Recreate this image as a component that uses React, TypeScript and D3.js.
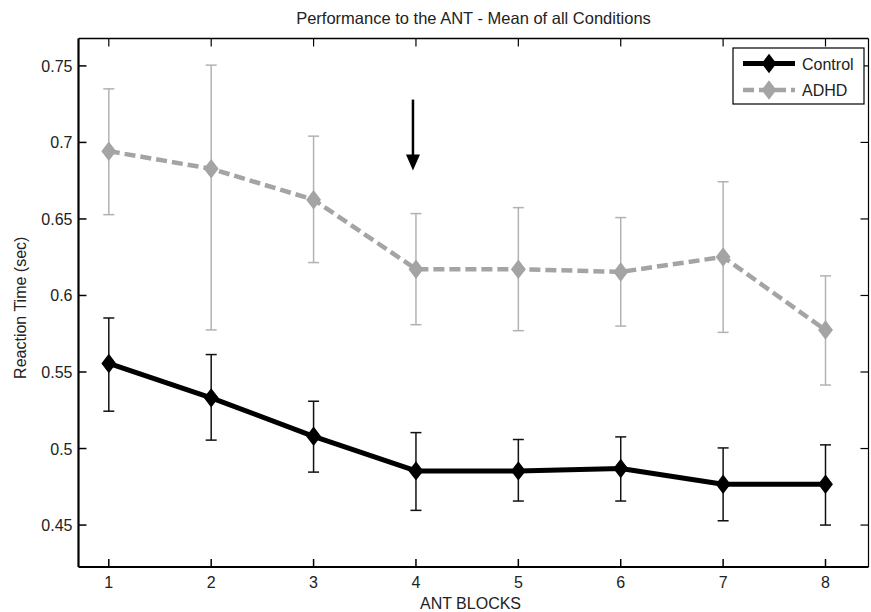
import React from "react";
import * as d3 from "d3";

const blocks = [1, 2, 3, 4, 5, 6, 7, 8];
const controlMean = [0.5556, 0.5331, 0.508, 0.4854, 0.4854, 0.487, 0.4767, 0.4767];
const controlUpper = [0.5853, 0.5614, 0.5309, 0.5104, 0.5059, 0.5076, 0.5004, 0.5024];
const controlLower = [0.5244, 0.5055, 0.4846, 0.4596, 0.4657, 0.4657, 0.4528, 0.45];
const adhdMean = [0.6943, 0.6828, 0.6626, 0.6172, 0.6172, 0.6154, 0.6252, 0.5774];
const adhdUpper = [0.735, 0.7505, 0.7041, 0.6535, 0.6574, 0.6509, 0.6743, 0.6128];
const adhdLower = [0.6528, 0.5775, 0.6215, 0.5809, 0.577, 0.58, 0.5759, 0.5415];
const yTicks = [0.45, 0.5, 0.55, 0.6, 0.65, 0.7, 0.75];
const yTickLabels = ["0.45", "0.5", "0.55", "0.6", "0.65", "0.7", "0.75"];
const xTickLabels = ["1", "2", "3", "4", "5", "6", "7", "8"];
const seriesNames = ["Control", "ADHD"];
const arrowBlock = 4;
const arrowFrom = 0.728;
const arrowTo = 0.6817;

const W = 871;
const H = 612;
const L = 78.5, R = 868.5, T = 38.5, B = 567;
const FONT = "'Liberation Sans', Arial, sans-serif";
const TEXT = "#222";
const GRAY = "#a4a4a4";
const GRAY_ERR = "#b2b2b2";

export default function App() {
  const x = d3.scaleLinear().domain([0.704, 8.42]).range([L, R]);
  const y = d3.scaleLinear().domain([0.4226, 0.7679]).range([B, T]);

  const line = d3
    .line<number>()
    .x((_, i) => x(blocks[i]))
    .y((d) => y(d));

  const diamond = (cx: number, cy: number, w = 6.5, h = 8.5) =>
    `M${cx},${cy - h}L${cx + w},${cy}L${cx},${cy + h}L${cx - w},${cy}Z`;

  const cap = 5.5;
  const errBars = (lo: number[], hi: number[], color: string, key: string) =>
    blocks.map((b, i) => {
      const cx = x(b);
      const y1 = y(hi[i]);
      const y2 = y(lo[i]);
      return (
        <g key={key + i} stroke={color} strokeWidth={1.5} fill="none">
          <line x1={cx} x2={cx} y1={y1} y2={y2} />
          <line x1={cx - cap} x2={cx + cap} y1={y1} y2={y1} />
          <line x1={cx - cap} x2={cx + cap} y1={y2} y2={y2} />
        </g>
      );
    });

  const ax = x(arrowBlock) - 3;
  const aTop = y(arrowFrom);
  const aTip = y(arrowTo);

  const legX = 733, legY = 48, legW = 131, legH = 56;
  const rowY = [63.5, 90];

  return (
    <svg
      width={W}
      height={H}
      style={{ position: "absolute", left: 0, top: 0, background: "#fff" }}
      fontFamily={FONT}
    >
      <rect x={0} y={0} width={W} height={H} fill="#fff" />
      {/* title */}
      <text x={(L + R) / 2} y={24} textAnchor="middle" fontSize={16.5} fill={TEXT}>
        Performance to the ANT - Mean of all Conditions
      </text>

      {/* error bars */}
      {errBars(adhdLower, adhdUpper, GRAY_ERR, "a")}
      {errBars(controlLower, controlUpper, "#111", "c")}

      {/* lines */}
      <path
        d={line(adhdMean) || ""}
        fill="none"
        stroke={GRAY}
        strokeWidth={4.5}
        strokeDasharray="11,5"
      />
      <path d={line(controlMean) || ""} fill="none" stroke="#000" strokeWidth={5} strokeLinejoin="round" />

      {/* markers */}
      {adhdMean.map((v, i) => (
        <path key={"am" + i} d={diamond(x(blocks[i]), y(v))} fill={GRAY} stroke={GRAY} strokeWidth={1.5} />
      ))}
      {controlMean.map((v, i) => (
        <path key={"cm" + i} d={diamond(x(blocks[i]), y(v))} fill="#000" stroke="#000" strokeWidth={1.5} />
      ))}

      {/* arrow */}
      <line x1={ax} x2={ax} y1={aTop} y2={aTip - 12} stroke="#000" strokeWidth={2.5} />
      <path d={`M${ax - 7},${aTip - 16}L${ax + 7},${aTip - 16}L${ax},${aTip}Z`} fill="#000" />

      {/* axes box */}
      <line x1={L} x2={L} y1={T} y2={B} stroke="#000" strokeWidth={2.2} />
      <line x1={L} x2={R} y1={B} y2={B} stroke="#000" strokeWidth={2} />
      <line x1={L} x2={R} y1={T} y2={T} stroke="#000" strokeWidth={1.6} />
      <line x1={R} x2={R} y1={T} y2={B} stroke="#000" strokeWidth={1.2} />

      {/* y ticks */}
      {yTicks.map((t, i) => (
        <g key={"yt" + i}>
          <line x1={L} x2={L + 8} y1={y(t)} y2={y(t)} stroke="#000" strokeWidth={1.5} />
          <line x1={R} x2={R - 8} y1={y(t)} y2={y(t)} stroke="#000" strokeWidth={1.2} />
          <text x={L - 6} y={y(t) + 6} textAnchor="end" fontSize={16} fill={TEXT}>
            {yTickLabels[i]}
          </text>
        </g>
      ))}

      {/* x ticks */}
      {blocks.map((b, i) => (
        <g key={"xt" + i}>
          <line x1={x(b)} x2={x(b)} y1={B} y2={B - 8} stroke="#000" strokeWidth={1.5} />
          <line x1={x(b)} x2={x(b)} y1={T} y2={T + 8} stroke="#000" strokeWidth={1.2} />
          <text x={x(b)} y={588} textAnchor="middle" fontSize={16} fill={TEXT}>
            {xTickLabels[i]}
          </text>
        </g>
      ))}

      {/* axis labels */}
      <text x={(L + R) / 2 - 3} y={609} textAnchor="middle" fontSize={16} fill={TEXT}>
        ANT BLOCKS
      </text>
      <text
        transform={`translate(26,${(T + B) / 2 + 5}) rotate(-90)`}
        textAnchor="middle"
        fontSize={16}
        fill={TEXT}
      >
        Reaction Time (sec)
      </text>

      {/* legend */}
      <rect x={legX} y={legY} width={legW} height={legH} fill="#fff" stroke="#000" strokeWidth={1.2} />
      <line x1={743} x2={795} y1={rowY[0]} y2={rowY[0]} stroke="#000" strokeWidth={5} />
      <path d={diamond(769, rowY[0])} fill="#000" stroke="#000" strokeWidth={1.5} />
      <line x1={743} x2={795} y1={rowY[1]} y2={rowY[1]} stroke={GRAY} strokeWidth={4.5} strokeDasharray="11,5" />
      <path d={diamond(769, rowY[1])} fill={GRAY} stroke={GRAY} strokeWidth={1.5} />
      {seriesNames.map((n, i) => (
        <text key={n} x={802} y={rowY[i] + 6} fontSize={16} fill={TEXT}>
          {n}
        </text>
      ))}
    </svg>
  );
}
